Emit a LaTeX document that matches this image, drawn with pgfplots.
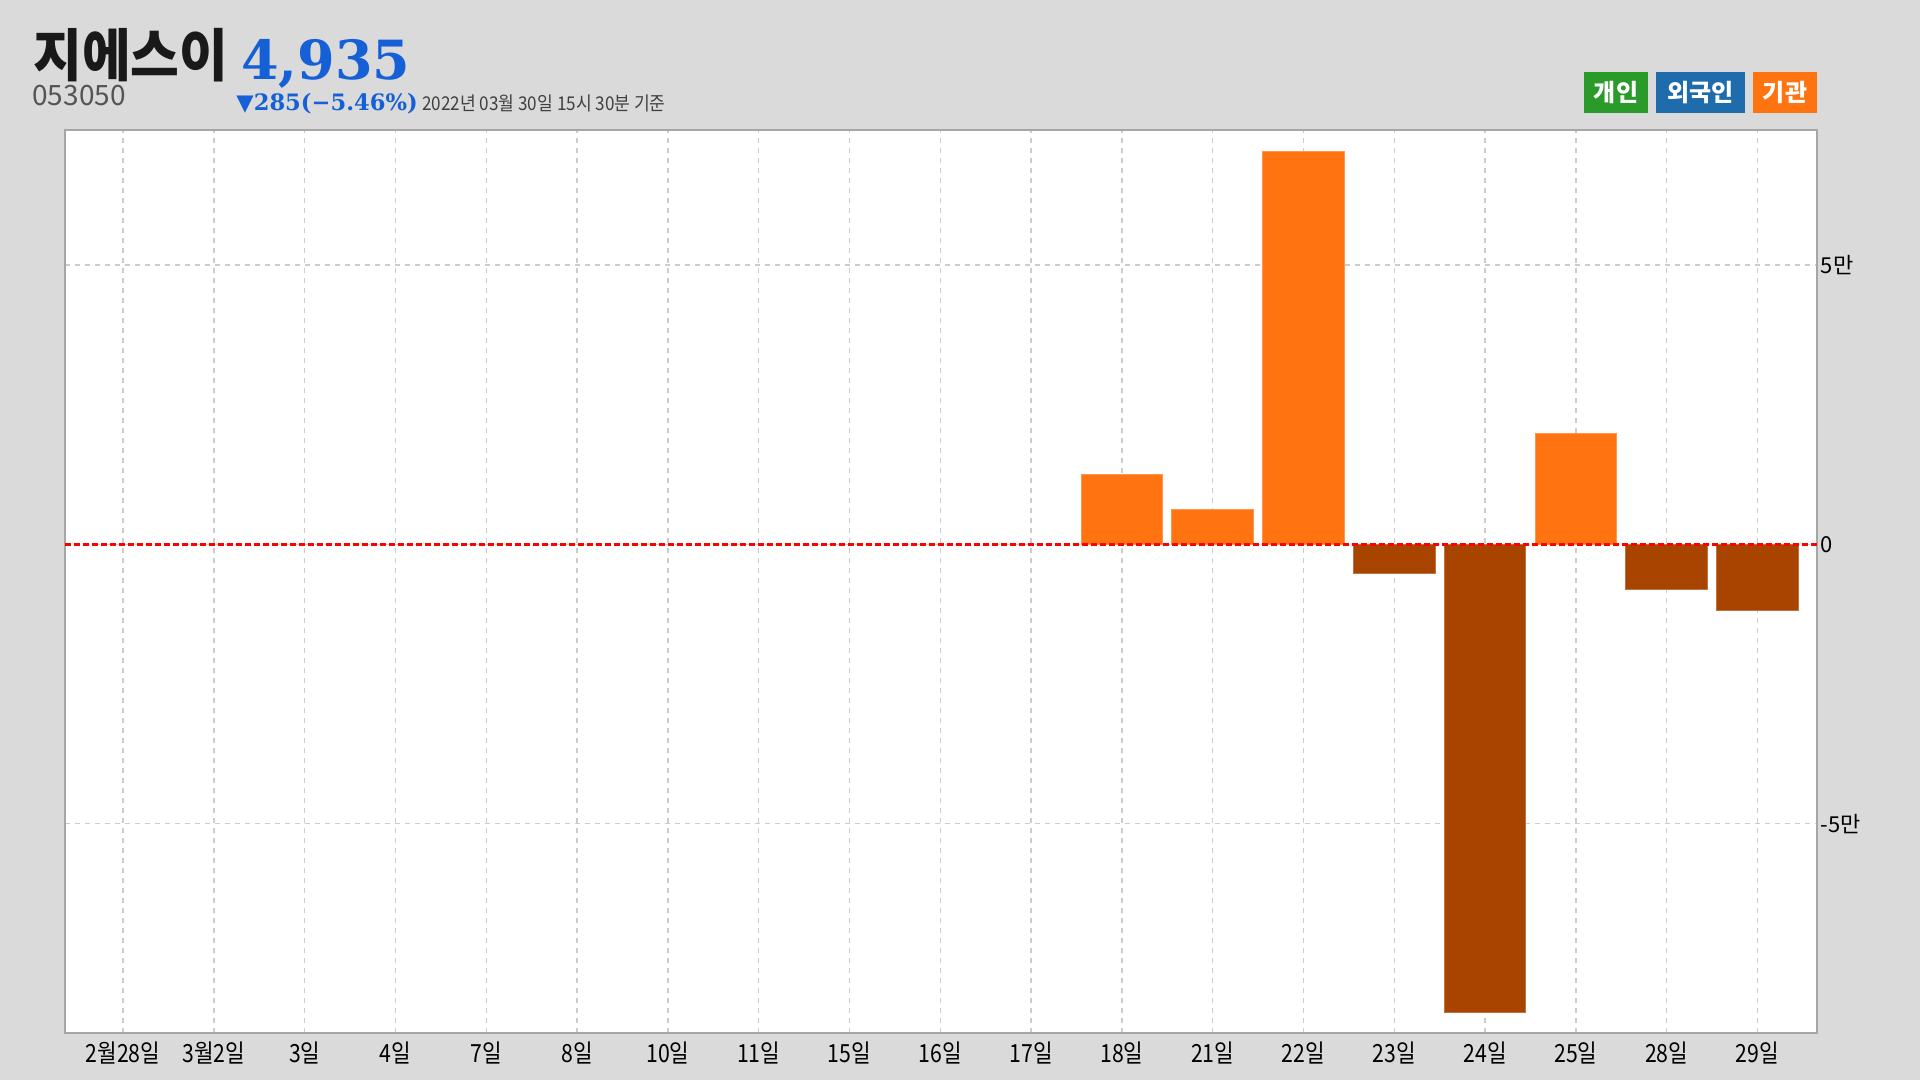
\documentclass[border=0pt]{standalone}
\usepackage{pgfplots}
\pgfplotsset{compat=1.18}
\usepackage{fontspec}
\usepackage{graphicx}
\setmainfont{Noto Sans CJK KR}
\newfontfamily\kr{Noto Sans CJK KR}
\newfontfamily\slab{DejaVu Serif}
\newfontfamily\djs{DejaVu Sans}
\definecolor{bgc}{HTML}{DADADA}
\definecolor{posc}{HTML}{FF7311}
\definecolor{negc}{HTML}{A84300}
\definecolor{gridc}{HTML}{CCCCCC}
\definecolor{framec}{HTML}{A6A6A6}
\definecolor{bluec}{HTML}{1560D6}
\definecolor{lgreen}{HTML}{2A9A2A}
\definecolor{lblue}{HTML}{1E6CAB}
\definecolor{lorange}{HTML}{FF7311}
\newcommand{\xl}[1]{\scalebox{0.85}[1]{#1}}
\begin{document}
\begin{tikzpicture}
\fill[bgc] (0pt,0pt) rectangle (960pt,-540pt);
\useasboundingbox (0pt,0pt) rectangle (960pt,-540pt);
\begin{axis}[
  at={(32.25pt,-516.5pt)}, anchor=south west,
  scale only axis, width=876pt, height=451.5pt,
  xmin=-0.645, xmax=18.65, ymin=-87480, ymax=74170,
  axis background/.style={fill=white},
  axis line style={draw=framec, line width=1pt},
  major tick length=0pt,
  xtick={0,...,18},
  xticklabels={\xl{2월28일},\xl{3월2일},\xl{3일},\xl{4일},\xl{7일},\xl{8일},\xl{10일},\xl{11일},\xl{15일},\xl{16일},\xl{17일},\xl{18일},\xl{21일},\xl{22일},\xl{23일},\xl{24일},\xl{25일},\xl{28일},\xl{29일}},
  xticklabel style={font=\fontsize{12.5pt}{14pt}\selectfont, inner sep=0pt, anchor=north, yshift=-4pt},
  ytick={-50000,0,50000},
  yticklabels={-5만,0,5만},
  yticklabel pos=right,
  yticklabel style={font=\fontsize{11pt}{13pt}\selectfont, inner sep=0pt, anchor=west, xshift=2pt},
  xmajorgrids, ymajorgrids,
  grid style={draw=gridc, line width=0.75pt, dash pattern=on 2.5pt off 2.5pt},
  ybar, bar width=0.9, bar shift=0pt,
  clip=false,
]
\addplot[fill=posc, draw=posc!75!white, line width=0.5pt] coordinates {(11,12530) (12,6270) (13,70280) (16,19870)};
\addplot[fill=negc, draw=negc!75!white, line width=0.5pt] coordinates {(14,-5190) (15,-83730) (17,-8000) (18,-11820)};
\addplot[sharp plot, draw=red, line width=1.5pt, dash pattern=on 3pt off 1.5pt] coordinates {(-0.645,0) (18.65,0)};
\end{axis}
% header
\node[anchor=base west, inner sep=0pt, text=black!90] at (16.5pt,-38.5pt) {\fontsize{28.5pt}{30pt}\selectfont\bfseries\scalebox{0.93}[1]{지에스이}};
\node[anchor=base west, inner sep=0pt, text=bluec] at (120.5pt,-40pt) {\fontsize{27pt}{30pt}\selectfont\slab\bfseries 4,935};
\node[anchor=base west, inner sep=0pt, text=black!67] at (16pt,-53pt) {\fontsize{14pt}{16pt}\selectfont 053050};
\node[anchor=base west, inner sep=0pt, text=bluec] at (118pt,-55.5pt) {\fontsize{11.3pt}{14pt}\selectfont{\djs ▼}{\slab\bfseries 285(−5.46\%)}};
\node[anchor=base west, inner sep=0pt, text=black!75] at (211pt,-55.5pt) {\fontsize{9.5pt}{11pt}\selectfont\scalebox{0.9}[1]{2022년 03월 30일 15시 30분 기준}};
% legend
\fill[lgreen] (792pt,-36pt) rectangle (824pt,-56.5pt);
\node[text=white, inner sep=0pt] at (808pt,-46.25pt) {\fontsize{12pt}{14pt}\selectfont\bfseries 개인};
\fill[lblue] (828pt,-36pt) rectangle (872.5pt,-56.5pt);
\node[text=white, inner sep=0pt] at (850.25pt,-46.25pt) {\fontsize{12pt}{14pt}\selectfont\bfseries 외국인};
\fill[lorange] (876.5pt,-36pt) rectangle (908.5pt,-56.5pt);
\node[text=white, inner sep=0pt] at (892.5pt,-46.25pt) {\fontsize{12pt}{14pt}\selectfont\bfseries 기관};
\end{tikzpicture}
\end{document}
